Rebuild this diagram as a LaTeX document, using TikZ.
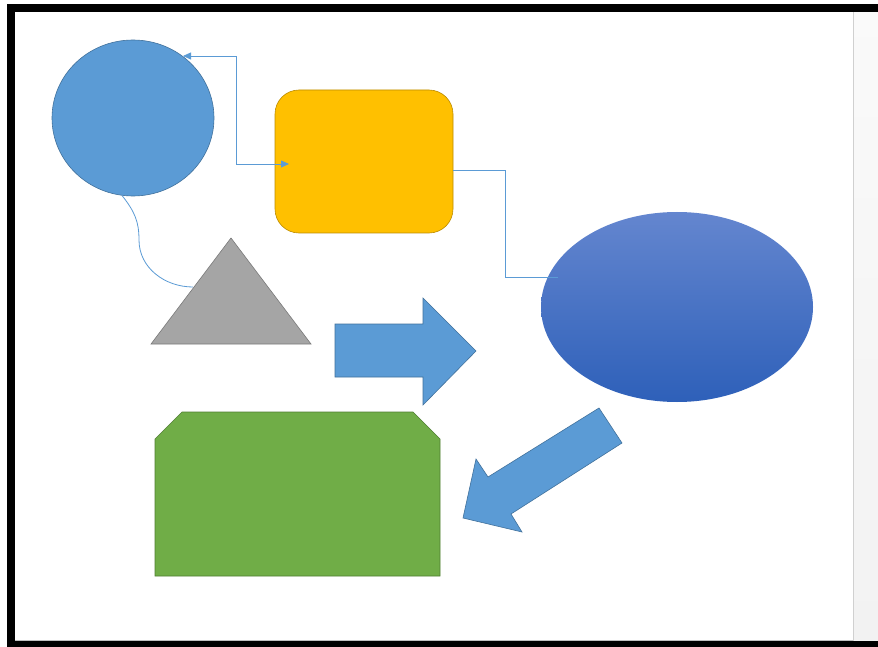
\documentclass[tikz,border=0pt]{standalone}
\usetikzlibrary{shapes.geometric,arrows.meta}
\definecolor{cblue}{HTML}{5B9BD5}
\definecolor{cblueline}{HTML}{41719C}
\definecolor{corange}{HTML}{FFC000}
\definecolor{corangeline}{HTML}{BC8C00}
\definecolor{cgray}{HTML}{A5A5A5}
\definecolor{cgrayline}{HTML}{7A7A7A}
\definecolor{cgreen}{HTML}{70AD47}
\definecolor{cgreenline}{HTML}{507E32}
\definecolor{celltop}{RGB}{100,134,207}
\definecolor{cellbot}{RGB}{46,96,185}
\definecolor{cpanel}{HTML}{F2F2F2}
\definecolor{cpanelline}{HTML}{D0D0D0}
\begin{document}
\begin{tikzpicture}[x=1pt,y=-1pt,
  conn/.style={draw=cblue, line width=0.8pt},
  >={Triangle[length=8pt,width=7pt]},
  bshape/.style={fill=cblue, draw=cblueline, line width=0.6pt, line join=miter},
]
% background and bounding box
\fill[white] (0,0) rectangle (878,647);
\useasboundingbox (0,0) rectangle (878,647);

% right panel
\shade[top color=white!60!cpanel, bottom color=cpanel] (853,12) rectangle (878,641);
\draw[cpanelline, line width=1pt] (853.5,12) -- (853.5,641);
\draw[black!25, line width=1pt] (15,640.5) -- (853,640.5);

% frame
\fill[black] (7,4) rectangle (878,12);
\fill[black] (7,4) rectangle (15,647);
\fill[black] (7,641) rectangle (878,647);

% circle
\node[ellipse, minimum width=162pt, minimum height=156pt, inner sep=0pt,
      fill=cblue, draw=cblueline, line width=0.6pt] (c) at (133,118) {};

% rounded rectangle
\node[rectangle, rounded corners=24pt, minimum width=178pt, minimum height=143pt,
      inner sep=0pt, fill=corange, draw=corangeline, line width=0.6pt] (r) at (364,161.5) {};

% ellipse with gradient
\node[ellipse, minimum width=272pt, minimum height=190pt, inner sep=0pt,
      top color=celltop, bottom color=cellbot, draw=none] (e) at (677,307) {};

% triangle
\coordinate (ta) at (231,238);
\coordinate (tl) at (151,344);
\coordinate (tr) at (311,344);
\coordinate (tin) at (193,287);
\fill[cgray, draw=cgrayline, line width=0.6pt] (ta) -- (tr) -- (tl) -- cycle;

% right block arrow
\draw[bshape] (335,324) -- (423,324) -- (423,298) -- (476,351) -- (423,405)
  -- (423,377) -- (335,377) -- cycle;

% diagonal block arrow
\draw[bshape] (599,408) -- (622,443) -- (511,514) -- (522,532) -- (463,518)
  -- (476,459) -- (488,477) -- cycle;

% green snipped rectangle
\draw[fill=cgreen, draw=cgreenline, line width=0.6pt]
  (155,439) -- (182,412) -- (413,412) -- (440,439) -- (440,576) -- (155,576) -- cycle;

% connectors
\coordinate (cin) at (183,56);
\coordinate (rin) at (289,164);
\draw[conn, <->] (cin) -- (236,56) -- (236,164) -- (rin);

\coordinate (rout) at (453,170);
\coordinate (ein) at (558,277);
\draw[conn] (rout) -- (505,170) -- (505,277) -- (ein);

\draw[conn] (c.262) .. controls (135,212) and (139,222) .. (139,240)
  .. controls (139,268) and (165,287) .. (tin);
\end{tikzpicture}
\end{document}
